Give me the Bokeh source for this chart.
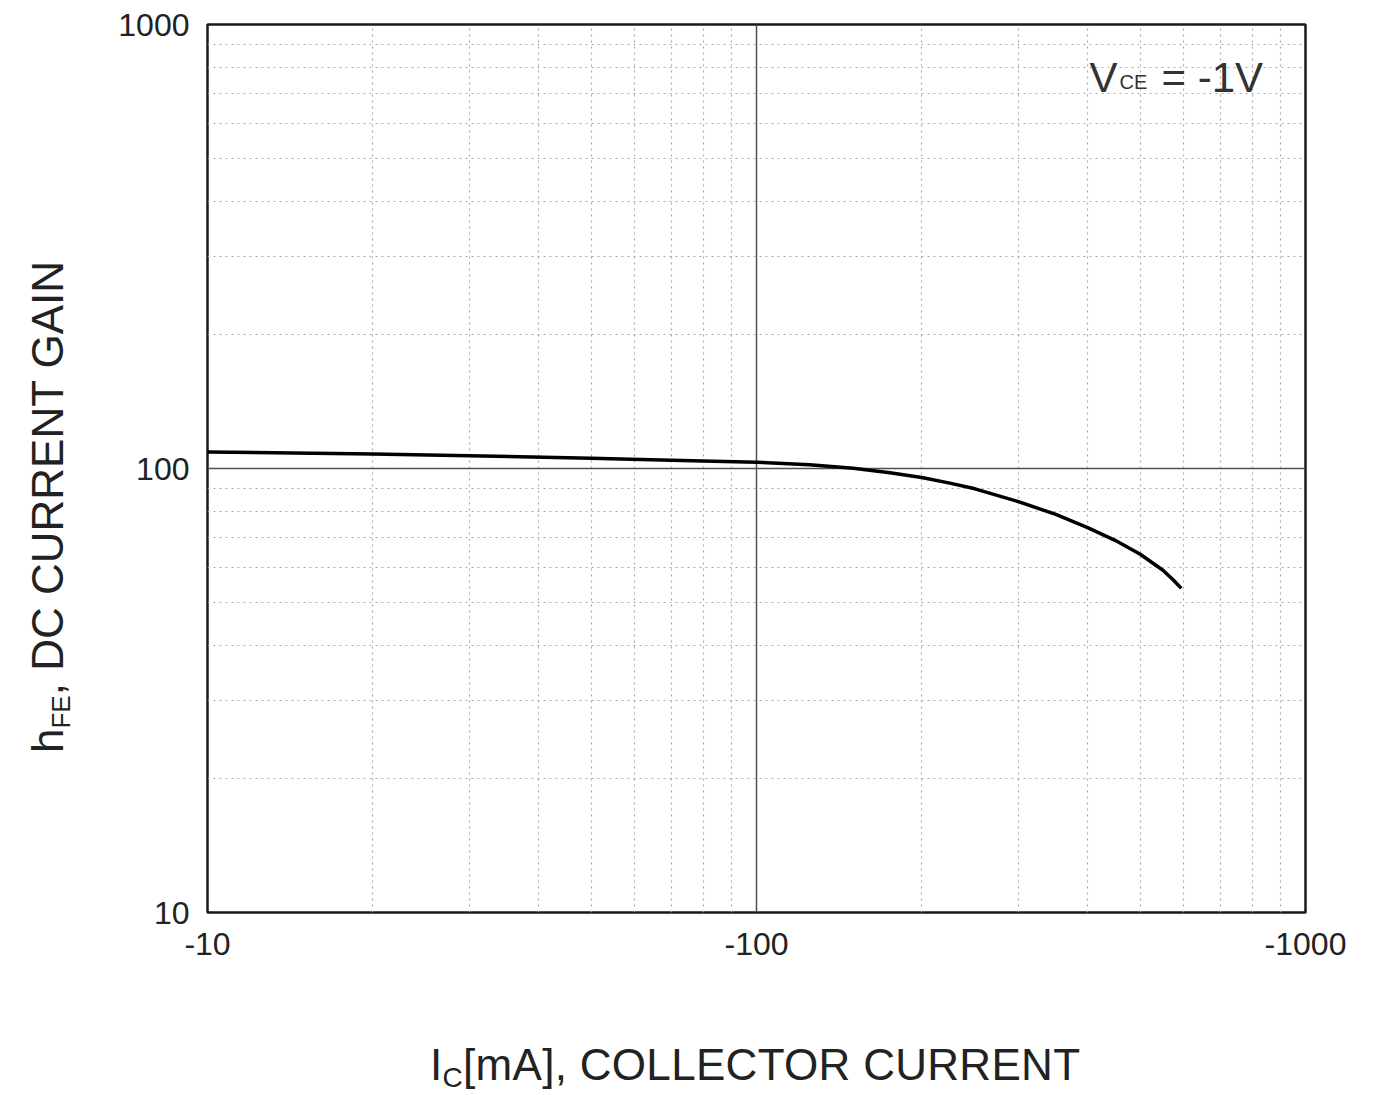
from bokeh.plotting import figure
from bokeh.models import FixedTicker, Label, ColumnDataSource, Div
from bokeh.layouts import row, column
from bokeh.embed import file_html
from bokeh.resources import INLINE

# data (|Ic| in mA, hFE)
ic = [10, 20, 30, 50, 70, 100, 125, 150, 175, 200, 225, 250, 300, 350, 400, 450, 500, 550, 575, 594]
hfe = [109, 107.8, 106.9, 105.4, 104.4, 103.3, 102.0, 100.1, 97.8, 95.4, 92.7, 90.0, 84.2, 78.9, 73.7, 68.9, 64.1, 59.0, 56.0, 53.7]

x_major = [10, 100, 1000]
x_labels = {10: "-10", 100: "-100", 1000: "-1000"}
y_major = [10, 100, 1000]
y_labels = {10: "10", 100: "100", 1000: "1000"}
minor = [m * d for d in (10, 100) for m in range(2, 10)]

x_title_main, x_title_sub, x_title_rest = "I", "C", "[mA], COLLECTOR CURRENT"
y_title_main, y_title_sub, y_title_rest = "h", "FE", ", DC CURRENT GAIN"
note_main, note_sub, note_rest = "V", "CE", "= -1V"

FONT = "Liberation Sans"
SHIFT = 10                     # horizontal page offset of the layout
YDIV_W = 80
FL, FT, FW, FH = 207, 24, 1098, 888
P_BL = FL - SHIFT - YDIV_W
P_W = P_BL + FW + 75
P_H = 1012
TOTAL_H = 1087
XDIV_H = TOTAL_H - P_H

p = figure(width=P_W, height=P_H, x_axis_type="log", y_axis_type="log",
           x_range=(10, 1000), y_range=(10, 1000),
           output_backend="svg", toolbar_location=None,
           frame_width=FW, frame_height=FH,
           min_border_left=P_BL, min_border_right=P_W - P_BL - FW,
           min_border_top=FT, min_border_bottom=P_H - FT - FH)
p.background_fill_color = "white"
p.border_fill_color = "white"
p.outline_line_color = "#1a1a1a"
p.outline_line_width = 2.5

p.xaxis.ticker = FixedTicker(ticks=x_major, minor_ticks=minor)
p.yaxis.ticker = FixedTicker(ticks=y_major, minor_ticks=minor)
p.xaxis.major_label_overrides = x_labels
p.yaxis.major_label_overrides = y_labels
for ax in (p.xaxis, p.yaxis):
    ax.axis_line_color = None
    ax.major_tick_line_color = None
    ax.minor_tick_line_color = None
    ax.major_label_text_font = FONT
    ax.major_label_text_font_size = "32px"
    ax.major_label_text_color = "#222222"
p.xaxis.major_label_standoff = 14
p.yaxis.major_label_standoff = 12

for g in (p.xgrid, p.ygrid):
    g.grid_line_color = "#505050"
    g.grid_line_width = 1.5
    g.minor_grid_line_color = "#a8aab8"
    g.minor_grid_line_dash = "2 4"
    g.minor_grid_line_width = 1.2

src = ColumnDataSource(dict(ic=ic, hfe=hfe))
p.line("ic", "hfe", source=src, line_color="black", line_width=3.5)

def lab(x, y, text, size, color="#333333"):
    p.add_layout(Label(x=x, y=y, x_units="screen", y_units="screen", text=text,
                       text_font=FONT, text_font_size=f"{size}px", text_color=color,
                       text_align="left", text_baseline="alphabetic"))

# screen units are relative to the frame's bottom-left corner (empirical +15 shift)
def sx(page_x):
    return page_x - FL
def sy(page_y):
    return (FT + FH) - page_y + 15

lab(sx(1089), sy(92), note_main, 42)
lab(sx(1119), sy(96), note_sub, 20)
lab(sx(1161), sy(92), note_rest, 42)

font_css = f"font-family:'{FONT}';color:#222222;white-space:nowrap;line-height:1;"
x_html = (f'<div style="position:absolute;left:335px;top:{1075 - 37 - P_H}px;'
          f'font-size:44px;letter-spacing:0.3px;{font_css}">{x_title_main}'
          f'<span style="font-size:28px;vertical-align:-0.25em;line-height:0;">{x_title_sub}</span>'
          f'{x_title_rest}</div>')
y_html = (f'<div style="position:absolute;left:21px;top:748px;transform-origin:left top;'
          f'transform:rotate(-90deg);font-size:44px;{font_css}">{y_title_main}'
          f'<span style="font-size:26px;vertical-align:-0.25em;line-height:0;">{y_title_sub}</span>'
          f'{y_title_rest}</div>')

xdiv = Div(text=x_html, width=P_W, height=XDIV_H, styles={"position": "relative", "overflow": "visible"})
ydiv = Div(text=y_html, width=YDIV_W, height=TOTAL_H, styles={"position": "relative", "overflow": "visible"})

layout = row(ydiv, column(p, xdiv, spacing=0), spacing=0)

open("out.html", "w").write(file_html(layout, INLINE))
